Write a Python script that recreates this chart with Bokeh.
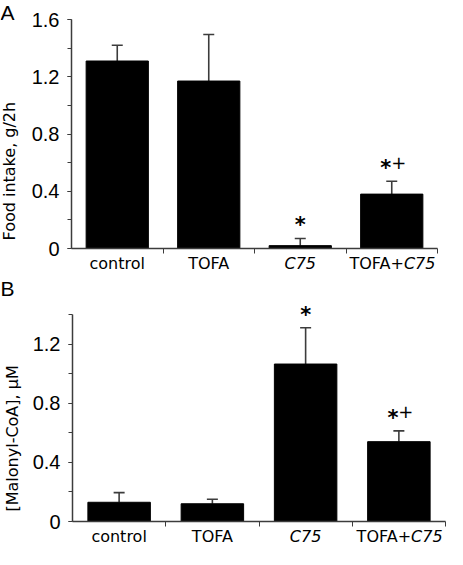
import math
from bokeh.plotting import figure
from bokeh.models import (Range1d, SingleIntervalTicker, FixedTicker, LinearAxis,
                          Whisker, TeeHead, ColumnDataSource, CustomJSTickFormatter)
from bokeh.core.properties import value
from bokeh.layouts import column
from bokeh.embed import file_html
from bokeh.resources import INLINE

# ---------------- data ----------------
categories = ["control", "TOFA", "C75", "TOFA+C75"]
# label pieces: (text, font style) -- C75 printed in italics
label_parts = [[("control", "normal")],
               [("TOFA", "normal")],
               [("C75", "italic")],
               [("TOFA+", "normal"), ("C75", "italic")]]

food_intake = [1.31, 1.17, 0.02, 0.38]      # g/2h
food_sem = [0.11, 0.325, 0.05, 0.09]
food_marks = ["", "", "*", "*+"]

malonyl_coa = [0.13, 0.12, 1.065, 0.54]      # uM
malonyl_sem = [0.065, 0.03, 0.245, 0.073]
malonyl_marks = ["", "", "*", "*+"]

AXIS_COLOR = "#3c3c3c"
CAT_FONT = "DejaVu Sans"
NUM_FONT = "Liberation Sans"


def text_width(s, size):
    # approximate DejaVu Sans advance widths (em units)
    w = {"T": .611, "O": .787, "F": .575, "A": .684, "+": .838, "C": .698,
         "7": .636, "5": .636}
    return sum(w.get(c, .6) for c in s) * size


def make_panel(letter, values, sems, marks, ylabel, ymax, width, height,
               left, right, top, bottom, bar_width, ylabel_dx, ylabel_dy):
    # the frame covers the whole canvas; axes are pinned at the origin
    ppx = (width - left - right) / 4.0           # pixels per category
    ppy = (height - top - bottom) / ymax          # pixels per y unit
    xr = Range1d(-left / ppx, 4 + right / ppx)
    yr = Range1d(-bottom / ppy, ymax + top / ppy)
    p = figure(width=width, height=height, x_range=xr, y_range=yr,
               output_backend="svg", toolbar_location=None, title=None,
               x_axis_location=None, y_axis_location=None,
               min_border=0)
    p.outline_line_color = None
    p.grid.visible = False
    p.background_fill_color = "white"
    p.border_fill_color = "white"

    xs = [i + 0.5 for i in range(len(categories))]
    upper = [v + s for v, s in zip(values, sems)]
    src = ColumnDataSource(dict(x=xs, top=values, upper=upper))
    p.vbar(x="x", top="top", bottom=0, width=bar_width, source=src,
           fill_color="black", line_color="black")
    w = Whisker(base="x", upper="upper", lower="top", source=src,
                dimension="height", line_color=AXIS_COLOR, line_width=1.6,
                upper_head=TeeHead(size=11, line_color=AXIS_COLOR, line_width=1.6),
                lower_head=None)
    p.add_layout(w)

    # y axis
    ya = LinearAxis(fixed_location=0, bounds=(0, ymax + 1e-6),
                    ticker=SingleIntervalTicker(interval=0.4, num_minor_ticks=2),
                    formatter=CustomJSTickFormatter(
                        code="return Math.abs(tick) < 1e-9 ? '0' : tick.toFixed(1);"))
    ya.major_tick_out = 4
    ya.major_tick_in = 0
    ya.minor_tick_out = 4
    ya.minor_tick_in = 0
    ya.axis_line_color = AXIS_COLOR
    ya.axis_line_width = 1.5
    ya.major_tick_line_color = AXIS_COLOR
    ya.minor_tick_line_color = AXIS_COLOR
    ya.major_label_text_font = NUM_FONT
    ya.major_label_text_font_size = "20px"
    ya.major_label_text_color = "black"
    ya.major_label_standoff = 8
    p.add_layout(ya, "left")

    # x axis: ticks at category boundaries, names drawn as text
    xa = LinearAxis(fixed_location=0, bounds=(0, 4),
                    ticker=FixedTicker(ticks=[1, 2, 3, 4]))
    xa.major_label_overrides = {1: "", 2: "", 3: "", 4: ""}
    xa.major_label_text_font_size = "0px"
    xa.major_tick_out = 5
    xa.major_tick_in = 0
    xa.minor_tick_out = 0
    xa.axis_line_color = AXIS_COLOR
    xa.axis_line_width = 1.5
    xa.major_tick_line_color = AXIS_COLOR
    p.add_layout(xa, "below")

    for x, parts in zip(xs, label_parts):
        if len(parts) == 1:
            t, st = parts[0]
            p.text(x=[x], y=[0], text=[t], y_offset=5, text_align="center",
                   text_baseline="top", text_font=value(CAT_FONT),
                   text_font_size="16px", text_font_style=st, text_color="black")
        else:
            (t1, s1), (t2, s2) = parts
            d = (text_width(t1, 16) - text_width(t2, 16)) / 2
            p.text(x=[x], y=[0], text=[t1], y_offset=5, x_offset=d,
                   text_align="right", text_baseline="top",
                   text_font=value(CAT_FONT), text_font_size="16px",
                   text_font_style=s1, text_color="black")
            p.text(x=[x], y=[0], text=[t2], y_offset=5, x_offset=d,
                   text_align="left", text_baseline="top",
                   text_font=value(CAT_FONT), text_font_size="16px",
                   text_font_style=s2, text_color="black")

    # significance marks: '*' (and '+' beside it, at the same height)
    for x, u, m in zip(xs, upper, marks):
        if not m:
            continue
        if "+" in m:
            p.text(x=[x], y=[u], text=["*"], x_offset=-6, y_offset=-1,
                   text_align="center", text_baseline="bottom",
                   text_font=value(CAT_FONT), text_font_size="21px",
                   text_font_style="bold", text_color="black")
            p.text(x=[x], y=[u], text=["+"], x_offset=7, y_offset=-19,
                   text_align="center", text_baseline="middle",
                   text_font=value(CAT_FONT), text_font_size="18px",
                   text_font_style="normal", text_color="black")
        else:
            p.text(x=[x], y=[u], text=[m], y_offset=-1,
                   text_align="center", text_baseline="bottom",
                   text_font=value(CAT_FONT), text_font_size="21px",
                   text_font_style="bold", text_color="black")

    # rotated y-axis title, starting near the bottom of the axis
    p.text(x=[0], y=[0], text=[ylabel], x_offset=ylabel_dx, y_offset=-ylabel_dy,
           angle=math.pi / 2, text_align="left", text_baseline="middle",
           text_font=value(CAT_FONT), text_font_size="16px", text_color="black")
    # panel letter
    p.text(x=[xr.start], y=[yr.end], text=[letter], text_align="left",
           text_baseline="top", text_font=value(NUM_FONT),
           text_font_size="21px", text_color="black")
    return p


pa = make_panel("A", food_intake, food_sem, food_marks, "Food intake, g/2h",
                1.6, 447, 276, 71, 10, 19, 28, 0.68, -62, 8)
pb = make_panel("B", malonyl_coa, malonyl_sem, malonyl_marks,
                "[Malonyl-CoA], \u03bcM",
                1.4, 447, 273, 72, 2, 38, 28, 0.67, -60, 10)

layout = column(pa, pb, spacing=0)
open("out.html", "w").write(file_html(layout, INLINE))
